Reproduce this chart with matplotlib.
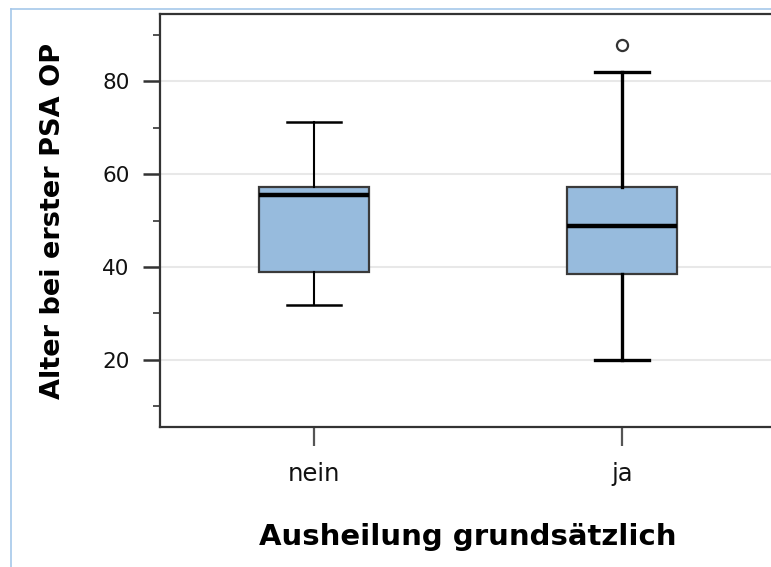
import matplotlib.pyplot as plt
from matplotlib.lines import Line2D

# Werte
gruppen = ['nein', 'ja']
unterer_whisker = [31.7, 20.0]
q1 = [38.8, 38.4]
median = [55.5, 48.9]
q3 = [57.2, 57.2]
oberer_whisker = [71.3, 82.1]
ausreisser = [[], [87.9]]

stats = []
for i in range(len(gruppen)):
    stats.append({'label': gruppen[i], 'whislo': unterer_whisker[i], 'q1': q1[i],
                  'med': median[i], 'q3': q3[i], 'whishi': oberer_whisker[i],
                  'fliers': ausreisser[i]})

fig = plt.figure(figsize=(7.71, 5.67), dpi=100)
ax = fig.add_axes([160 / 771, 1 - 427 / 567, 616 / 771, 413 / 567])

bp = ax.bxp(stats, positions=[1, 2], widths=0.355, capwidths=0.175, patch_artist=True,
            boxprops=dict(facecolor='#97bbdd', edgecolor='#3a3a3a', linewidth=1.6),
            medianprops=dict(color='black', linewidth=3.2),
            whiskerprops=dict(color='black', linewidth=1.5),
            capprops=dict(color='black', linewidth=1.8),
            flierprops=dict(marker='o', markerfacecolor='none', markeredgecolor='#333333',
                            markersize=8, markeredgewidth=1.6),
            zorder=3)
# die "ja"-Whisker sind etwas dicker
for l in bp['whiskers'][2:] + bp['caps'][2:]:
    l.set_linewidth(2.4)

ax.set_xlim(0.5, 2.5)
ax.set_ylim(5.5, 94.5)
ax.set_yticks([20, 40, 60, 80])
ax.set_yticks([10, 30, 50, 70, 90], minor=True)
ax.yaxis.grid(True, color='#e8e8e8', linewidth=1.5, zorder=0)
ax.set_axisbelow(True)

for s in ax.spines.values():
    s.set_color('#333333')
    s.set_linewidth(1.6)
ax.spines['right'].set_visible(False)

ax.tick_params(axis='y', which='major', length=12, width=1.8, color='#333333',
               labelsize=15.5, pad=10, labelcolor='#111111')
ax.tick_params(axis='y', which='minor', length=5, width=1.2, color='#333333')
ax.tick_params(axis='x', length=14, width=1.6, color='#555555',
               labelsize=17.5, pad=11, labelcolor='#111111')

ax.set_xlabel('Ausheilung grundsätzlich', fontsize=21, fontweight='bold', labelpad=27)
ax.set_ylabel('Alter bei erster PSA OP', fontsize=19.5, fontweight='bold', labelpad=26)

# hellblauer Rahmen oben und links
fig.add_artist(Line2D([10.5 / 771, 10.5 / 771], [0, 1 - 9 / 567], color='#a6c8ea', linewidth=1.2))
fig.add_artist(Line2D([10.5 / 771, 1], [1 - 9 / 567, 1 - 9 / 567], color='#a6c8ea', linewidth=1.2))

fig.savefig('out.png', dpi=100)
